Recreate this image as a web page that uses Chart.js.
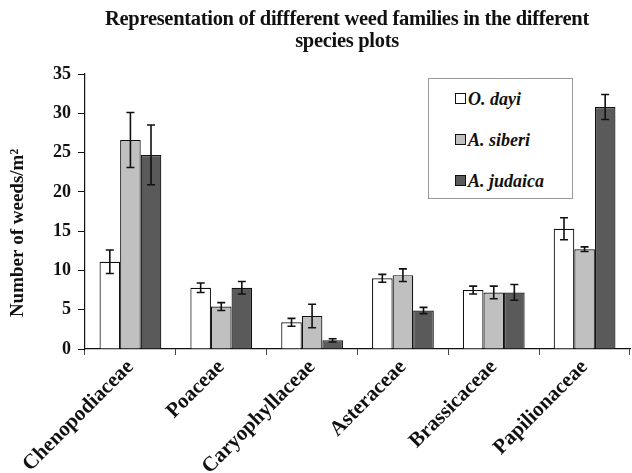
<!DOCTYPE html>
<html>
<head>
<meta charset="utf-8">
<script src="https://cdn.jsdelivr.net/npm/chart.js@4.4.0/dist/chart.umd.min.js"></script>
<style>
  body { margin: 0; background: #fff; }
  #wrap { position: relative; width: 632px; height: 473px; }
  #title {
    position: absolute; left: 30px; top: 7px; width: 634px;
    text-align: center; font: bold 20.5px "Liberation Serif", serif; line-height: 22px; color: #111;
    letter-spacing: -0.3px;
  }
  #legend {
    position: absolute; left: 428px; top: 78px; width: 145px; height: 121px;
    border: 1px solid #999; background: #fff; box-sizing: border-box;
    font: italic bold 18px "Liberation Serif", serif; color: #111;
  }
  .item { position: absolute; left: 26px; height: 20px; line-height: 20px; }
  .sw { display: inline-block; width: 9px; height: 9px; border: 1px solid #111; margin-right: 2px; vertical-align: 1px; }
</style>
</head>
<body>
<div id="wrap">
  <div id="title">Representation of diffferent weed families in the different<br>species plots</div>
  <canvas id="myChart" width="632" height="473"></canvas>
  <div id="legend"></div>
</div>
<script>
const families = ['Chenopodiaceae', 'Poaceae', 'Caryophyllaceae', 'Asteraceae', 'Brassicaceae', 'Papilionaceae'];
const seriesNames = ['O. dayi', 'A. siberi', 'A. judaica'];
const seriesColors = ['#ffffff', '#c0c0c0', '#5a5a5a'];

const dayiValues = [11.1, 7.8, 3.4, 9.0, 7.5, 15.3];
const siberiValues = [26.6, 5.4, 4.2, 9.4, 7.2, 12.7];
const judaicaValues = [24.7, 7.8, 1.1, 4.9, 7.2, 30.8];

const dayiErrors = [1.5, 0.6, 0.5, 0.5, 0.5, 1.4];
const siberiErrors = [3.5, 0.5, 1.5, 0.8, 0.8, 0.3];
const judaicaErrors = [3.8, 0.8, 0.2, 0.4, 1.0, 1.6];

const yTicks = [0, 5, 10, 15, 20, 25, 30, 35];
const yTitle = 'Number of weeds/m²';

const allValues = [dayiValues, siberiValues, judaicaValues];
const allErrors = [dayiErrors, siberiErrors, judaicaErrors];

// legend box
const legendDiv = document.getElementById('legend');
seriesNames.forEach((name, i) => {
  const item = document.createElement('div');
  item.className = 'item';
  item.style.top = (10 + i * 41) + 'px';
  item.innerHTML = '<span class="sw" style="background:' + seriesColors[i] + '"></span>' + name;
  legendDiv.appendChild(item);
});

// error bars drawn on top of the bars
const errorBars = {
  id: 'errorBars',
  afterDatasetsDraw(chart) {
    const ctx = chart.ctx;
    const yScale = chart.scales.y;
    ctx.save();
    ctx.strokeStyle = '#111';
    ctx.lineWidth = 1.6;
    chart.data.datasets.forEach((ds, di) => {
      const meta = chart.getDatasetMeta(di);
      meta.data.forEach((bar, i) => {
        const v = allValues[di][i];
        const e = allErrors[di][i];
        const top = yScale.getPixelForValue(v + e);
        const bot = yScale.getPixelForValue(v - e);
        const x = bar.x;
        ctx.beginPath();
        ctx.moveTo(x, top); ctx.lineTo(x, bot);
        ctx.moveTo(x - 4, top); ctx.lineTo(x + 4, top);
        ctx.moveTo(x - 4, bot); ctx.lineTo(x + 4, bot);
        ctx.stroke();
      });
    });
    ctx.restore();
  }
};

// y axis title, sits a bit lower than the middle like in the original
const yTitlePlugin = {
  id: 'yTitle',
  afterDraw(chart) {
    const ctx = chart.ctx;
    ctx.save();
    ctx.translate(18, 233);
    ctx.rotate(-Math.PI / 2);
    ctx.font = 'bold 19px "Liberation Serif"';
    ctx.fillStyle = '#111';
    ctx.textAlign = 'center';
    ctx.textBaseline = 'middle';
    ctx.fillText(yTitle, 0, 0);
    ctx.restore();
  }
};

const ctx1 = document.getElementById('myChart').getContext('2d');

const chart1 = new Chart(ctx1, {
  type: 'bar',
  data: {
    labels: families,
    datasets: seriesNames.map((name, i) => ({
      label: name,
      data: allValues[i],
      backgroundColor: seriesColors[i],
      borderColor: '#111',
      borderWidth: 1.2,
      categoryPercentage: 0.68,
      barPercentage: 1.0
    }))
  },
  options: {
    responsive: false,
    animation: false,
    layout: { padding: { top: 74, right: 2, left: 6, bottom: 0 } },
    plugins: {
      legend: { display: false },
      tooltip: { enabled: false }
    },
    scales: {
      x: {
        afterFit: axis => { axis.height = 124; },
        grid: { display: true, drawOnChartArea: false, offset: true, color: '#444', tickLength: 6 },
        border: { color: '#111', width: 1.2 },
        ticks: {
          color: '#111',
          font: { family: 'Liberation Serif', weight: 'bold', size: 21 },
          maxRotation: 45, minRotation: 45,
          padding: 0
        }
      },
      y: {
        min: 0, max: 35,
        afterFit: axis => { axis.width = 79; },
        afterBuildTicks: axis => { axis.ticks = yTicks.map(v => ({ value: v })); },
        grid: { display: true, drawOnChartArea: false, color: '#111', tickLength: 7 },
        border: { color: '#111', width: 1.2 },
        ticks: {
          color: '#111',
          font: { family: 'Liberation Serif', weight: 'bold', size: 18 },
          padding: 7
        }
      }
    }
  },
  plugins: [errorBars, yTitlePlugin]
});
</script>
</body>
</html>
